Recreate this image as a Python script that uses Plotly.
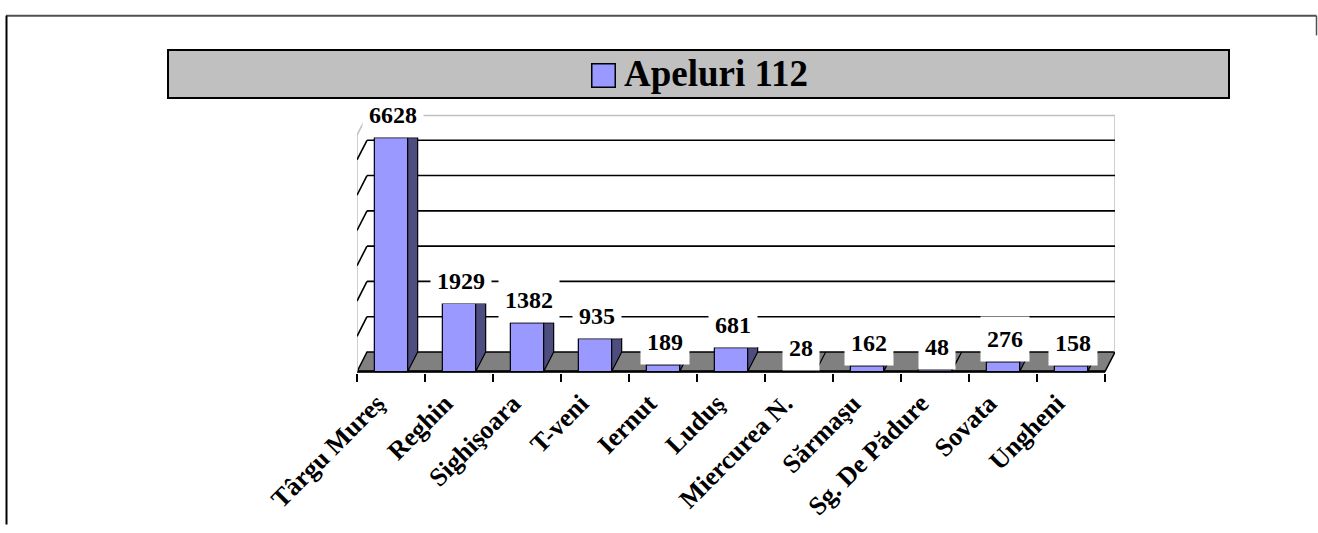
import plotly.graph_objects as go

# ---------------- data ----------------
categories = ["Târgu Mureş", "Reghin", "Sighişoara", "T-veni", "Iernut", "Luduş",
              "Miercurea N.", "Sărmaşu", "Sg. De Pădure", "Sovata", "Ungheni"]
values = [6628, 1929, 1382, 935, 189, 681, 28, 162, 48, 276, 158]
series_name = "Apeluri 112"
gridline_values = [1000, 2000, 3000, 4000, 5000, 6000]
wall_top_value = 6700

# ---------------- geometry / style ----------------
W, H = 1318, 533
Y0 = 377.0        # pixel row of value 0 (front plane)
S = 0.036         # pixels per value unit
X0 = 357.0        # pixel column of the left edge of the first category
CW = 68.0         # pixels per category
DX = 10.0 / CW    # 3D depth, in category units
DY = 20.0 / S     # 3D depth, in value units
BAR_W = 0.49

ymin, ymax = -40, 7300
xmin, xmax = -0.5, len(categories) - 0.5 + DX
ml = X0
mr = W - (X0 + CW * (xmax - xmin))
mt = Y0 - S * ymax
mb = H - (Y0 - S * ymin)
PW = W - ml - mr
PH = H - mt - mb

FRONT = "#9999FF"
SIDE = "#4D4D80"
FLOOR = "#808080"
WALL = "#C0C0C0"
FONT = "Liberation Serif"


def px_x(px):
    return (px - ml) / PW


def px_y(py):
    return ((H - mb) - py) / PH


n = len(categories)
xs = list(range(n))

fig = go.Figure()

# front faces of the bars
fig.add_trace(go.Bar(
    x=xs, y=values, width=BAR_W, name=series_name,
    marker=dict(color=FRONT, line=dict(color="black", width=1.2)),
    hoverinfo="skip", showlegend=False,
))

# side faces of the bars (depth faces)
for i, v in enumerate(values):
    xr = i + BAR_W / 2
    top_back = max(v, DY)
    fig.add_trace(go.Scatter(
        x=[xr, xr + DX, xr + DX, xr, xr],
        y=[0, DY, top_back, v, 0],
        mode="lines", fill="toself", fillcolor=SIDE,
        line=dict(color="black", width=1.2),
        hoverinfo="skip", showlegend=False,
    ))

shapes = []
x_left = -0.5
x_right = n - 0.5

# floor
shapes.append(dict(
    type="path", xref="x", yref="y", layer="below",
    path=f"M {x_left},0 L {x_right},0 L {x_right + DX},{DY} L {x_left + DX},{DY} Z",
    fillcolor=FLOOR, line=dict(color="black", width=1.5),
))
# front edge of floor (thicker)
shapes.append(dict(type="line", xref="x", yref="y", layer="below",
                   x0=x_left, x1=x_right, y0=0, y1=0,
                   line=dict(color="black", width=2.5)))
# walls outline
shapes.append(dict(
    type="path", xref="x", yref="y", layer="below",
    path=(f"M {x_left},0 L {x_left},{wall_top_value} L {x_left + DX},{wall_top_value + DY} "
          f"L {x_right + DX},{wall_top_value + DY} L {x_right + DX},{DY}"),
    line=dict(color=WALL, width=1.5),
))
# gridlines on back wall + side wall
for g in gridline_values:
    shapes.append(dict(type="line", xref="x", yref="y", layer="below",
                       x0=x_left + DX, x1=x_right + DX, y0=g + DY, y1=g + DY,
                       line=dict(color="black", width=1.6)))
    shapes.append(dict(type="line", xref="x", yref="y", layer="below",
                       x0=x_left, x1=x_left + DX, y0=g, y1=g + DY,
                       line=dict(color="black", width=1.6)))

# outer frame
shapes.append(dict(type="line", xref="paper", yref="paper",
                   x0=px_x(6), x1=px_x(1316.5), y0=px_y(14), y1=px_y(14),
                   line=dict(color="#505050", width=2)))
shapes.append(dict(type="line", xref="paper", yref="paper",
                   x0=px_x(6.5), x1=px_x(6.5), y0=px_y(14), y1=px_y(533),
                   line=dict(color="black", width=2)))
shapes.append(dict(type="line", xref="paper", yref="paper",
                   x0=px_x(1316.5), x1=px_x(1316.5), y0=px_y(14), y1=px_y(34),
                   line=dict(color="#505050", width=1.5)))

annotations = []

# data labels
for i, v in enumerate(values):
    txt = str(v)
    annotations.append(dict(
        xref="x", yref="y", x=i + DX * 0.2, y=v,
        xanchor="center", yanchor="bottom", showarrow=False,
        text=f"<b>{txt}</b>", bgcolor="white",
        width=len(txt) * 12 + 12, height=44, borderpad=0,
        font=dict(family=FONT, size=24, color="black"),
    ))

# legend box (drawn as annotations so it sits above the data labels)
annotations.append(dict(
    xref="paper", yref="paper", x=px_x(167), y=px_y(47.5),
    xanchor="left", yanchor="top", showarrow=False, text="",
    bgcolor="#C0C0C0", bordercolor="black", borderwidth=2, borderpad=0,
    width=1230 - 167 - 4, height=97 - 47.5 - 4,
))
annotations.append(dict(
    xref="paper", yref="paper", x=px_x(591), y=px_y(62),
    xanchor="left", yanchor="top", showarrow=False, text="",
    bgcolor=FRONT, bordercolor="black", borderwidth=1.5, borderpad=0,
    width=22, height=22,
))
annotations.append(dict(
    xref="paper", yref="paper", x=px_x(622), y=px_y(72.5),
    xanchor="left", yanchor="middle", showarrow=False,
    text=f"<b>{series_name}</b>",
    font=dict(family=FONT, size=37, color="black"),
))

fig.update_layout(
    width=W, height=H,
    margin=dict(l=ml, r=mr, t=mt, b=mb, pad=0),
    paper_bgcolor="white", plot_bgcolor="rgba(0,0,0,0)",
    showlegend=False,
    shapes=shapes, annotations=annotations,
    bargap=0,
    xaxis=dict(
        range=[xmin, xmax], tickmode="array", tickvals=xs,
        ticktext=[f"<b>{c}</b>" for c in categories],
        tickangle=-45, ticks="", showgrid=False, zeroline=False, showline=False,
        tickfont=dict(family=FONT, size=26, color="black"),
        ticklabelstandoff=9, ticklabelshift=-14,
        minor=dict(tickmode="array", tickvals=[i - 0.5 for i in range(n + 1)],
                   ticks="outside", ticklen=8, tickwidth=2, tickcolor="black",
                   showgrid=False),
        fixedrange=True,
    ),
    yaxis=dict(range=[ymin, ymax], visible=False, fixedrange=True),
)

fig.write_html(
    "out.html",
    config={"displayModeBar": False, "staticPlot": True},
    post_script="document.body.style.margin='0px';document.body.style.overflow='hidden';",
)
